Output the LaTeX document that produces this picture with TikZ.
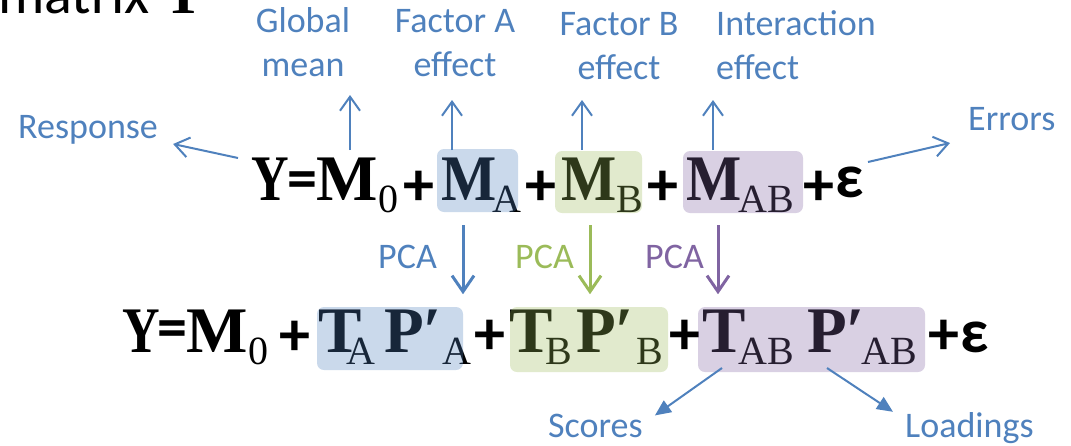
\documentclass[tikz,border=0pt]{standalone}
\usepackage{fontspec}
\usetikzlibrary{arrows.meta}
\newfontfamily\lblfont{Carlito}
\newfontfamily\eqfont{Liberation Serif}
\newfontfamily\eqnarrow[FakeStretch=0.8]{Liberation Serif}
\newfontfamily\eqmid[FakeStretch=0.9]{Liberation Serif}
\definecolor{effblue}{HTML}{4F81BD}
\definecolor{effgreen}{HTML}{9BBB59}
\definecolor{effpurple}{HTML}{8064A2}
\tikzset{
  lbl/.style={font=\lblfont\fontsize{36}{44}\selectfont, text=effblue, inner sep=0pt},
  bigsym/.style={font=\eqfont\bfseries\fontsize{65}{65}\selectfont, inner sep=0pt, anchor=base west},
  midsym/.style={font=\eqmid\bfseries\fontsize{65}{65}\selectfont, inner sep=0pt, anchor=base west},
  narrowsym/.style={font=\eqnarrow\bfseries\fontsize{65}{65}\selectfont, inner sep=0pt, anchor=base west},
  subsym/.style={font=\eqfont\fontsize{40}{40}\selectfont, inner sep=0pt, anchor=base west},
  opsym/.style={font=\lblfont\bfseries\fontsize{62}{62}\selectfont, inner sep=0pt},
  eqsym/.style={font=\lblfont\bfseries\fontsize{60}{60}\selectfont, inner sep=0pt},
  hlbox/.style={fill=#1, fill opacity=0.3, rounded corners=7pt},
  arr/.style={draw=effblue, line width=2pt, -{Straight Barb[length=14pt,width=20pt]}},
  pcaarr/.style={draw=#1, line width=3pt, -{Straight Barb[length=16pt,width=22pt]}},
  ptr/.style={draw=effblue, line width=2pt, -{Triangle[length=16pt,width=14pt]}},
}
\begin{document}
\begin{tikzpicture}[x=1pt, y=-1pt]
\useasboundingbox (0,0) rectangle (1071,445);
\clip (0,0) rectangle (1071,445);
% heading, cut off by the top edge
\node[font=\lblfont\fontsize{58}{58}\selectfont, inner sep=0pt, anchor=base west] (head) at (-2,13) {matrix {\eqfont\bfseries Y}};

% Top equation
\node[narrowsym] (tY) at (251,200) {Y};
\node[eqsym] (tEq) at (302.5,185) {=};
\node[bigsym] (tM0) at (316,200) {M};
\node[subsym] (tM0s) at (378,212) {0};
\node[opsym] (tP1) at (419,188) {+};
\node[midsym] (tMA) at (441,200) {M};
\node[subsym] (tMAs) at (492,212) {A};
\node[opsym] (tP2) at (541,188) {+};
\node[midsym] (tMB) at (561,200) {M};
\node[subsym] (tMBs) at (616,212) {B};
\node[opsym] (tP3) at (663,188) {+};
\node[midsym] (tMAB) at (686,200) {M};
\node[subsym] (tMABs) at (738,212) {AB};
\node[opsym] (tP4) at (819,188) {+};
\node[opsym] (tE) at (849.5,182) {ε};

% Bottom equation
\node[narrowsym] (bY) at (122,352) {Y};
\node[eqsym] (bEq) at (172.5,334.5) {=};
\node[bigsym] (bM0) at (186,352) {M};
\node[subsym] (bM0s) at (248,364) {0};
\node[opsym] (bP1) at (295,338) {+};
\node[bigsym] (bTA) at (318,352) {T};
\node[subsym] (bTAs) at (346,364) {A};
\node[bigsym] (bPA) at (384,352) {P′};
\node[subsym] (bPAs) at (442,364) {A};
\node[opsym] (bP2) at (490,337) {+};
\node[bigsym] (bTB) at (509,352) {T};
\node[subsym] (bTBs) at (545,364) {B};
\node[bigsym] (bPB) at (576,352) {P′};
\node[subsym] (bPBs) at (636,364) {B};
\node[opsym] (bP3) at (685,337) {+};
\node[bigsym] (bTAB) at (702,352) {T};
\node[subsym] (bTABs) at (738,364) {AB};
\node[bigsym] (bPAB) at (807,352) {P′};
\node[subsym] (bPABs) at (861,364) {AB};
\node[opsym] (bP4) at (944,337) {+};
\node[opsym] (bE) at (975,337) {ε};

% Highlights over the effect terms
\fill[hlbox=effblue] (437,149) rectangle (518,212);
\fill[hlbox=effgreen] (555,151) rectangle (642,213);
\fill[hlbox=effpurple] (683,151) rectangle (803,213);
\fill[hlbox=effblue] (317,307) rectangle (463,370);
\fill[hlbox=effgreen] (510,307) rectangle (668,372);
\fill[hlbox=effpurple] (698,307) rectangle (925,372);

% Labels
\node[lbl, anchor=base west] (resp) at (18,138) {Response};
\node[lbl, anchor=south, align=center] (gmean) at (303,77) {Global\\mean};
\node[lbl, anchor=south, align=center] (facA) at (455,77) {Factor A\\effect};
\node[lbl, anchor=south, align=center] (facB) at (619,80) {Factor B\\effect};
\node[lbl, anchor=south west, align=left] (inter) at (716,80) {Interaction\\effect};
\node[lbl, anchor=base west] (errs) at (968,130) {Errors};
\node[lbl, anchor=base west] (pcaA) at (378,268) {PCA};
\node[lbl, anchor=base west, text=effgreen] (pcaB) at (515,268) {PCA};
\node[lbl, anchor=base west, text=effpurple] (pcaAB) at (645,268) {PCA};
\node[lbl, anchor=base west] (scores) at (548,437) {Scores};
\node[lbl, anchor=base west] (loads) at (905,437) {Loadings};

% Arrows to the labels
\coordinate (respT) at (238,158);
\coordinate (gmT) at (350,150);
\coordinate (facAT) at (452,150);
\coordinate (facBT) at (582,150);
\coordinate (interT) at (713,150);
\coordinate (errT) at (868,162);
\draw[arr] (respT) -- ([xshift=15pt,yshift=-6pt]resp.base east);
\draw[arr, shorten >=18pt] (gmT) -- (gmT |- gmean.south);
\draw[arr, shorten >=23pt] (facAT) -- (facAT |- facA.south);
\draw[arr, shorten >=20pt] (facBT) -- (facBT |- facB.south);
\draw[arr, shorten >=20pt] (interT) -- (interT |- inter.south);
\draw[arr] (errT) -- ([xshift=-18pt,yshift=-13pt]errs.base west);

% PCA arrows
\coordinate (pcaAT) at (463,225);
\coordinate (pcaBT) at (590,225);
\coordinate (pcaABT) at (718,225);
\draw[pcaarr=effblue, shorten >=15pt] (pcaAT) -- (pcaAT |- bPA.north);
\draw[pcaarr=effgreen, shorten >=15pt] (pcaBT) -- (pcaBT |- bPB.north);
\draw[pcaarr=effpurple, shorten >=15pt] (pcaABT) -- (pcaABT |- bTAB.north);

% Scores and loadings
\coordinate (scT) at (722,368);
\coordinate (ldT) at (827,368);
\draw[ptr] (scT) -- ([xshift=12pt,yshift=-2pt]scores.north east);
\draw[ptr] (ldT) -- ([xshift=-12pt]loads.north west);
\end{tikzpicture}
\end{document}
